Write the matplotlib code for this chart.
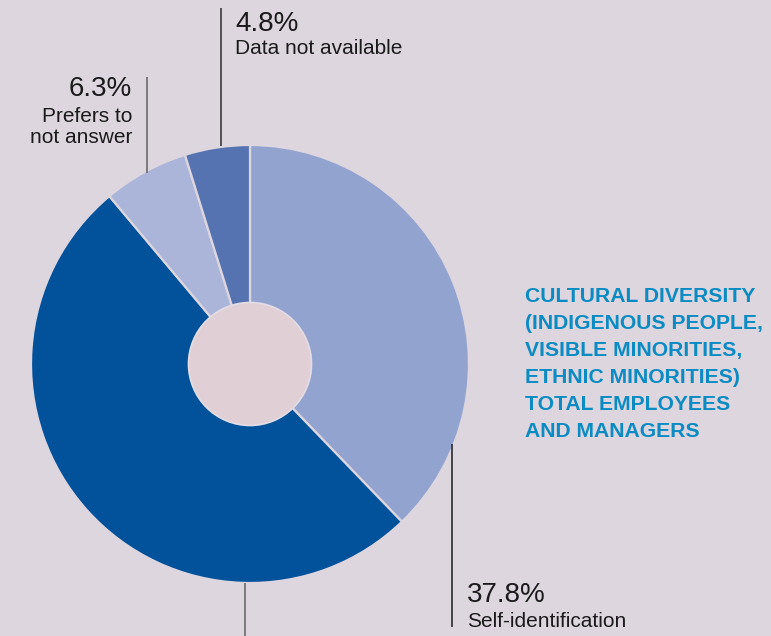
import matplotlib
matplotlib.use("Agg")
import matplotlib.pyplot as plt
from matplotlib.patches import Circle

# Shares of employees and managers by cultural-diversity declaration
categories = ["Self-identification", "Did not self-identify", "Prefers to\nnot answer", "Data not available"]
values = [37.8, 51.1, 6.3, 4.8]
colors = ["#93a3cf", "#01519b", "#abb5d9", "#5473b0"]

title_lines = [
    "CULTURAL DIVERSITY",
    "(INDIGENOUS PEOPLE,",
    "VISIBLE MINORITIES,",
    "ETHNIC MINORITIES)",
    "TOTAL EMPLOYEES",
    "AND MANAGERS",
]

BG = "#ddd6df"
W, H = 771, 636

plt.rcParams["font.family"] = ["Liberation Sans", "DejaVu Sans"]

fig = plt.figure(figsize=(W / 100, H / 100), dpi=100, facecolor=BG)
ax = fig.add_axes([0, 0, 1, 1])
ax.set_facecolor(BG)

cx, cy, r = 250, H - 364, 219
ax.pie(values, colors=colors, startangle=90, counterclock=False,
       center=(cx, cy), radius=r, frame=True,
       wedgeprops=dict(edgecolor=BG, linewidth=1.6))
ax.set_xlim(0, W)
ax.set_ylim(0, H)
ax.set_aspect("equal")
ax.axis("off")

# centre hole
ax.add_patch(Circle((cx, cy), 61.5, facecolor="#e0d0d6", edgecolor="#e4dde6",
                    linewidth=1.2, zorder=5))

def vline(x, y0, y1, color):
    ax.plot([x, x], [H - y0, H - y1], color=color, lw=1.2, solid_capstyle="butt", zorder=6)

# leader lines
vline(221, 8, 146, "#3a3a3a")
vline(147, 77, 173, "#6a6a6a")
vline(452, 444, 627, "#2a2a2a")
vline(245, 583, 640, "#6a6a6a")

txt = "#1a1a1a"
PCT, LAB = 20, 15
# 4.8 %
ax.text(235, H - 31, f"{values[3]:.1f}%", fontsize=PCT, color=txt, ha="left", va="baseline")
ax.text(235, H - 54, categories[3], fontsize=LAB, color=txt, ha="left", va="baseline")
# 6.3 %
ax.text(132, H - 96, f"{values[2]:.1f}%", fontsize=PCT, color=txt, ha="right", va="baseline")
ax.text(132, H - 143, categories[2], fontsize=LAB, color=txt, ha="right", va="baseline",
        linespacing=1.1, multialignment="right")
# 37.8 %
ax.text(467, H - 602, f"{values[0]:.1f}%", fontsize=PCT, color=txt, ha="left", va="baseline")
ax.text(467, H - 627, categories[0], fontsize=LAB, color=txt, ha="left", va="baseline")

# block title
for i, line in enumerate(title_lines):
    ax.text(525, H - (302 + i * 27), line, fontsize=15.2, fontweight="bold",
            color="#0b8bc3", ha="left", va="baseline")

fig.savefig("out.png", dpi=100, facecolor=BG)
